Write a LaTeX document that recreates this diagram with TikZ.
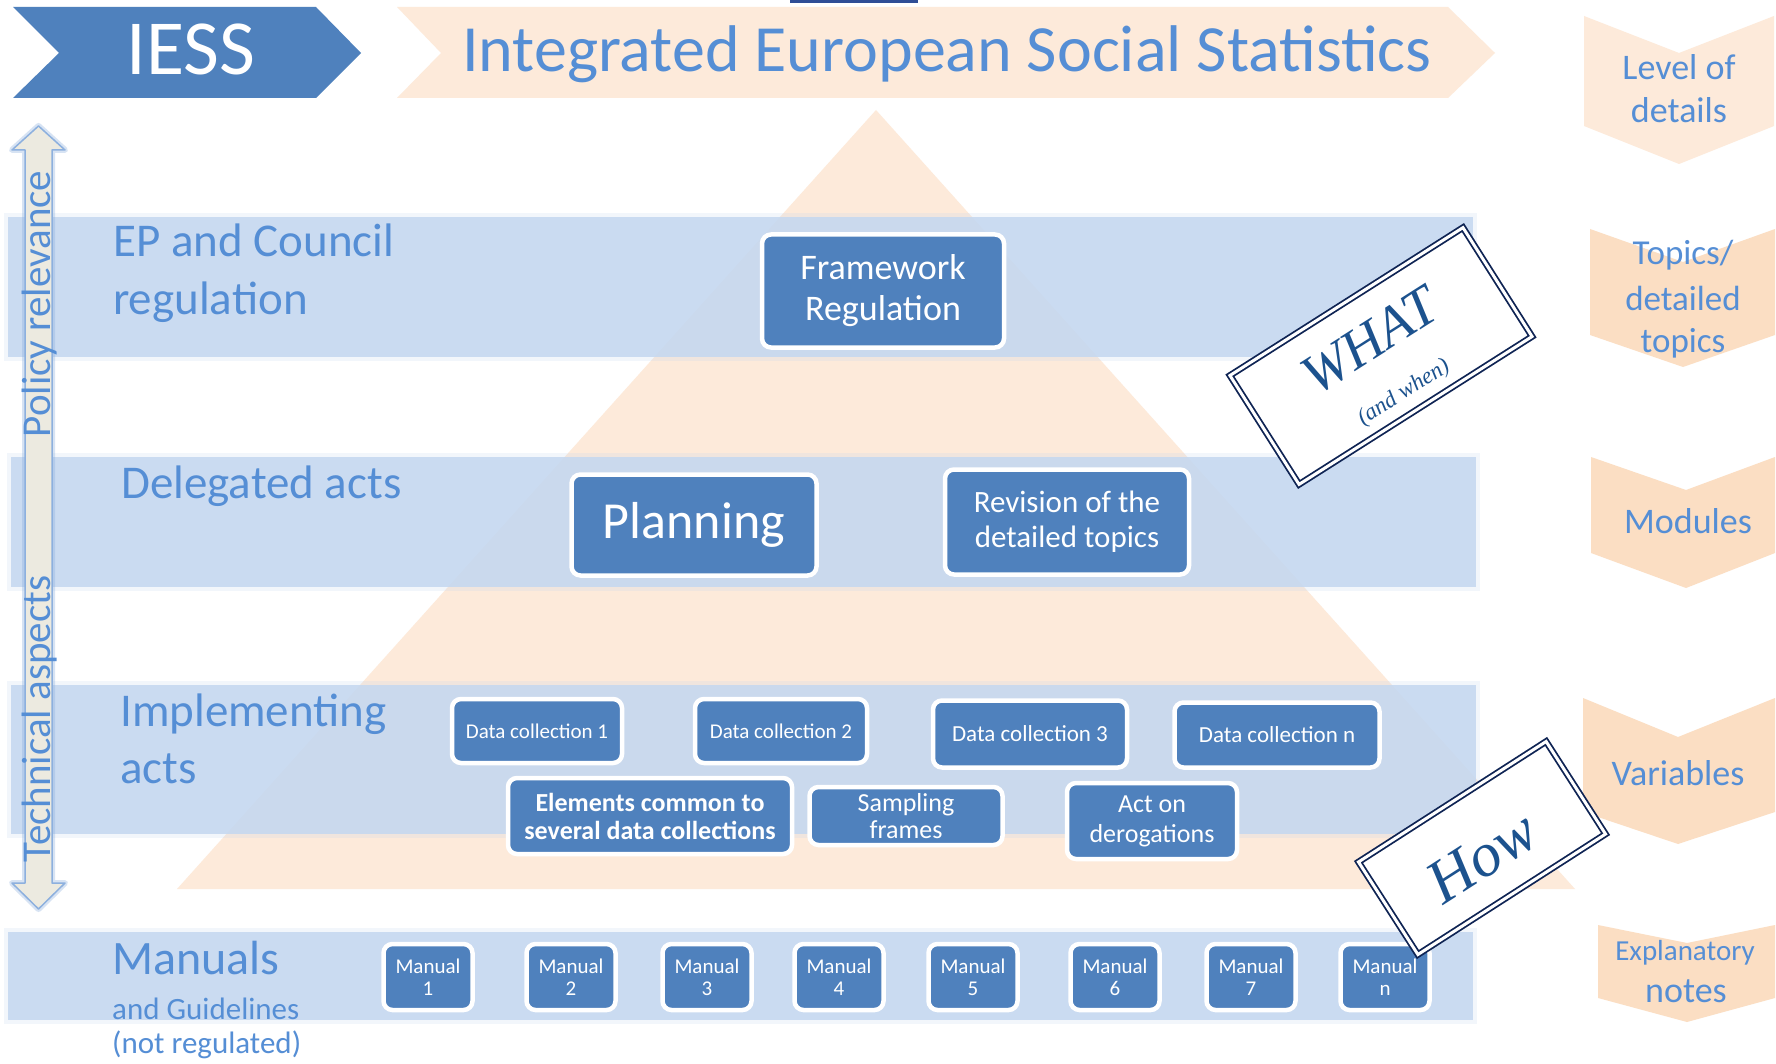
\documentclass[tikz,border=0pt]{standalone}
\usepackage{fontspec}
\setmainfont{Carlito}
\newfontfamily\stampfont{Liberation Serif}
\definecolor{boxblue}{RGB}{79,129,189}
\definecolor{txtblue}{RGB}{85,142,213}
\definecolor{bandblue}{RGB}{196,215,240}
\definecolor{peach}{RGB}{253,234,218}
\definecolor{peachmid}{RGB}{251,222,195}
\definecolor{navy}{RGB}{15,36,84}
\definecolor{stampblue}{RGB}{28,82,142}
\definecolor{arrowfill}{RGB}{236,234,224}
\definecolor{arrowedge}{RGB}{141,176,222}
\definecolor{topbar}{RGB}{47,78,150}
\newcommand\myfs[2]{\fontsize{#1}{#2}\selectfont}
\newcommand\softband[4]{%
  \fill[bandblue,opacity=0.22] (#1-4,#2-4) rectangle (#3+4,#4+4);
  \fill[bandblue,opacity=0.85] (#1,#2) rectangle (#3,#4);}
\begin{document}
\begin{tikzpicture}[x=1pt,y=-1pt,
  bx/.style={rectangle, rounded corners=9pt, fill=boxblue, draw=white, line width=4.5pt, text=white, align=center, inner sep=0pt},
  lbl/.style={text=txtblue, anchor=base west, inner sep=0pt},
  rlbl/.style={text=txtblue, anchor=base, inner sep=0pt},
  stampbox/.style={rectangle, draw=navy, double=white, double distance=3pt, line width=1.8pt, fill=white, inner sep=0pt},
  stamptext/.style={text=stampblue, inner sep=0pt},
  chev/.style={fill=peachmid}]
\useasboundingbox (0,0) rectangle (1776,1064);
\fill[white] (0,0) rectangle (1776,1064);
% top bar
\fill[topbar] (790,0) rectangle (918,3);
% title chevrons
\fill[boxblue] (13,7) -- (316,7) -- (361,53) -- (316,98) -- (13,98) -- (59,53) -- cycle;
\fill[peach] (397,7) -- (1448,7) -- (1495,53) -- (1448,98) -- (397,98) -- (441,53) -- cycle;
\node[text=white, anchor=base, inner sep=0pt, font=\myfs{78}{80}] (iess) at (191,75) {IESS};
\node[text=txtblue, anchor=base, inner sep=0pt, font=\myfs{66}{70}] (title) at (947,72) {Integrated European Social Statistics};
% pyramid
\fill[peach] (876,110) -- (1575,889) -- (177,889) -- cycle;
% bands
\softband{8}{217}{1473}{357}
\softband{11}{457}{1476}{587}
\softband{11}{685}{1476}{834}
\softband{8}{932}{1473}{1020}
% left double arrow
\draw[arrowedge, line width=6pt, opacity=0.35, line join=round] (38.5,126) -- (65,150) -- (52,150) -- (52,883) -- (65,883) -- (38.5,909) -- (12,883) -- (25,883) -- (25,150) -- (12,150) -- cycle;
\draw[arrowedge, fill=arrowfill, line width=1.5pt, line join=round] (38.5,126) -- (65,150) -- (52,150) -- (52,883) -- (65,883) -- (38.5,909) -- (12,883) -- (25,883) -- (25,150) -- (12,150) -- cycle;
\node[rlbl, rotate=90, font=\myfs{41}{44}] (pol) at (50,304) {Policy relevance};
\node[rlbl, rotate=90, font=\myfs{41}{44}] (tech) at (50,719) {Technical aspects};
% band labels
\node[lbl, font=\myfs{47}{56}] (ep1) at (113,257) {EP and Council};
\node[lbl, font=\myfs{47}{56}] (ep2) at (113,315) {regulation};
\node[lbl, font=\myfs{47}{56}] (del) at (121,498) {Delegated acts};
\node[lbl, font=\myfs{47}{56}] (imp1) at (120,726) {Implementing};
\node[lbl, font=\myfs{47}{56}] (imp2) at (120,783) {acts};
\node[lbl, font=\myfs{48}{56}] (man1) at (112,974) {Manuals};
\node[lbl, font=\myfs{31}{36}] (man2) at (112,1019) {and Guidelines};
\node[lbl, font=\myfs{31}{36}] (man3) at (112,1053) {(not regulated)};
% boxes
\node[bx, minimum width=242, minimum height=113, font=\myfs{36}{41}] (fw) at (883,291) {Framework\\Regulation};
\node[bx, minimum width=245, minimum height=101, font=\myfs{52}{60}] (plan) at (694,525) {Planning};
\node[bx, minimum width=244, minimum height=105, font=\myfs{31}{35}] (rev) at (1067,522) {Revision of the\\detailed topics};
\node[bx, minimum width=170, minimum height=64, font=\myfs{21}{25}] (dc1) at (537,731) {Data collection 1};
\node[bx, minimum width=172, minimum height=64, font=\myfs{21}{25}] (dc2) at (781,731) {Data collection 2};
\node[bx, minimum width=194, minimum height=67, font=\myfs{23}{27}] (dc3) at (1030,734) {Data collection 3};
\node[bx, minimum width=205, minimum height=65, font=\myfs{23}{27}] (dcn) at (1277,735) {Data collection n};
\node[bx, minimum width=284, minimum height=76, font=\bfseries\myfs{26}{28}] (elem) at (650,816) {Elements common to\\several data collections};
\node[bx, minimum width=193, minimum height=58, font=\myfs{26}{27}] (samp) at (906,816) {Sampling\\frames};
\node[bx, minimum width=170, minimum height=76, font=\myfs{26}{30}] (act) at (1152,821) {Act on\\derogations};
\foreach \n/\x/\t in {m1/428/1, m2/571/2, m3/707/3, m4/839/4, m5/973/5, m6/1115/6, m7/1251/7, m8/1385/n}
  \node[bx, minimum width=89, minimum height=66, font=\myfs{21}{22}] (\n) at (\x,977) {Manual\\\t};
% right chevrons
\fill[peach] (1584,16) -- (1679,53) -- (1774,16) -- (1774,126) -- (1679,164) -- (1584,126) -- cycle;
\fill[chev] (1590,229) -- (1683,262) -- (1775,229) -- (1775,335) -- (1683,367) -- (1590,335) -- cycle;
\fill[chev] (1591,457) -- (1686,490) -- (1775,457) -- (1775,553) -- (1686,588) -- (1591,553) -- cycle;
\fill[chev] (1583,698) -- (1678,737) -- (1775,698) -- (1775,812) -- (1678,844) -- (1583,812) -- cycle;
\fill[chev] (1598,925) -- (1687,943) -- (1775,925) -- (1775,998) -- (1687,1022) -- (1598,998) -- cycle;
\node[rlbl, font=\myfs{36}{40}] (lev1) at (1679,80) {Level of};
\node[rlbl, font=\myfs{36}{40}] (lev2) at (1679,123) {details};
\node[rlbl, font=\myfs{35}{40}] (top1) at (1683,265) {Topics/};
\node[rlbl, font=\myfs{35}{40}] (top2) at (1683,310) {detailed};
\node[rlbl, font=\myfs{35}{40}] (top3) at (1683,352) {topics};
\node[rlbl, font=\myfs{36}{40}] (mod) at (1688,533) {Modules};
\node[rlbl, font=\myfs{36}{40}] (var) at (1678,785) {Variables};
\node[rlbl, font=\myfs{29}{32}] (exp1) at (1685,960) {Explanatory};
\node[rlbl, font=\myfs{36}{40}] (exp2) at (1686,1002) {notes};
% stamps
\node[stampbox, minimum width=276, minimum height=129, rotate=32.4] (what) at (1381,356) {};
\node[stamptext, rotate=32.4, font=\stampfont\itshape\myfs{56}{56}] (whatt) at (1370,341) {WHAT};
\node[stamptext, rotate=32.4, font=\stampfont\itshape\myfs{23}{23}] (when) at (1404,393) {(and when)};
\node[stampbox, minimum width=223, minimum height=110, rotate=32.7] (how) at (1482,848) {};
\node[stamptext, rotate=32.7, font=\stampfont\itshape\myfs{62}{62}] (howt) at (1482,857) {How};
\end{tikzpicture}
\end{document}
